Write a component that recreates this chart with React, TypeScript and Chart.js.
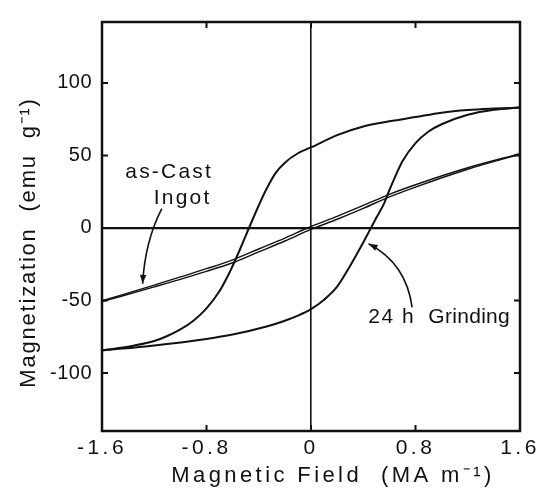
import React, { useEffect, useRef } from "react";
import { Chart, registerables } from "chart.js";

Chart.register(...registerables);

// ---- data ----
const xTicks = [-1.6, -0.8, 0, 0.8, 1.6];
const yTicks = [-100, -50, 0, 50, 100];

// 24 h grinding: descending-field branch (upper), listed with increasing field
const grindUpperH = [-1.6, -1.36, -1.2, -1.1, -1.0, -0.9, -0.8, -0.7, -0.62, -0.54, -0.47, -0.4, -0.34, -0.27, -0.2, -0.1, 0, 0.2, 0.4, 0.6, 0.8, 1.0, 1.2, 1.4, 1.6];
const grindUpperM = [-84.5, -81.2, -78, -74.5, -70, -64, -55.5, -43.5, -30, -14, 1, 15.5, 27, 38, 45, 51.5, 55.5, 64, 70, 73.5, 76.5, 79.5, 81.3, 82.3, 83];

// 24 h grinding: ascending-field branch (lower)
const grindLowerH = [-1.6, -1.2, -0.8, -0.6, -0.34, -0.2, -0.1, 0, 0.1, 0.2, 0.3, 0.4, 0.45, 0.5, 0.56, 0.6, 0.66, 0.7, 0.8, 0.9, 1.0, 1.2, 1.4, 1.6];
const grindLowerM = [-84.5, -81, -76.5, -73.5, -68, -64, -60.5, -56, -49.5, -40.5, -26, -10, -1.5, 7, 17, 26, 38.5, 46, 58.5, 66.5, 71.5, 78, 81.5, 83];

// as-cast ingot: narrow loop (two close branches)
const castH = [-1.6, -1.2, -0.8, -0.6, -0.4, -0.2, 0, 0.2, 0.4, 0.6, 0.8, 1.2, 1.6];
const castUpperM = [-50.2, -39.4, -28.1, -22, -14.5, -7, 1, 8, 15.5, 23.2, 29.8, 41.5, 51.2];
const castLowerM = [-50.8, -40.6, -29.9, -24, -16.5, -9, -1, 6, 13.5, 21.4, 28.2, 40.5, 50.8];

const xTitle = "Magnetic Field  (MA m\u207B\u00B9)";
const yTitle = "Magnetization  (emu  g\u207B\u00B9)";
const castLabel = ["as-Cast", "Ingot"];
const grindLabel = ["24 h", "Grinding"];

const FONT = "'Liberation Sans', Arial, sans-serif";
const INK = "#111";

function patchScale(scale: any, labelLs: string, titleLs: string, dx: number, dy: number) {
  if (scale.__patched) return;
  scale.__patched = true;
  const ctx = scale.ctx;
  const dl = scale.drawLabels.bind(scale);
  scale.drawLabels = (a: any) => {
    ctx.save();
    (ctx as any).letterSpacing = labelLs;
    dl(a);
    ctx.restore();
  };
  const dt = scale.drawTitle.bind(scale);
  scale.drawTitle = (a: any) => {
    ctx.save();
    (ctx as any).letterSpacing = titleLs;
    ctx.translate(dx, dy);
    dt(a);
    ctx.restore();
  };
}

const scalePatchPlugin = {
  id: "scalePatch",
  beforeDraw(chart: any) {
    patchScale(chart.scales.x, "3.5px", "3.4px", 22, 0);
    patchScale(chart.scales.y, "0.5px", "1.8px", 0, 16);
  },
};

const framePlugin = {
  id: "frame",
  afterDatasetsDraw(chart: any) {
    const { ctx, chartArea, scales } = chart;
    const { left, right, top, bottom } = chartArea;
    ctx.save();
    ctx.strokeStyle = INK;
    ctx.lineWidth = 2.5;
    ctx.strokeRect(left, top, right - left, bottom - top);
    ctx.lineWidth = 2;
    const tl = 6;
    ctx.beginPath();
    for (const v of xTicks) {
      const px = scales.x.getPixelForValue(v);
      ctx.moveTo(px, bottom);
      ctx.lineTo(px, bottom - tl);
      ctx.moveTo(px, top);
      ctx.lineTo(px, top + tl);
    }
    for (const v of yTicks) {
      const py = scales.y.getPixelForValue(v);
      ctx.moveTo(left, py);
      ctx.lineTo(left + tl, py);
      ctx.moveTo(right, py);
      ctx.lineTo(right - tl, py);
    }
    ctx.stroke();
    ctx.restore();
  },
};

function arrow(ctx: CanvasRenderingContext2D, x0: number, y0: number, cx: number, cy: number, x1: number, y1: number) {
  ctx.beginPath();
  ctx.moveTo(x0, y0);
  ctx.quadraticCurveTo(cx, cy, x1, y1);
  ctx.stroke();
  const ang = Math.atan2(y1 - cy, x1 - cx);
  const len = 9;
  const w = 3.2;
  ctx.beginPath();
  ctx.moveTo(x1, y1);
  ctx.lineTo(x1 - len * Math.cos(ang) + w * Math.sin(ang), y1 - len * Math.sin(ang) - w * Math.cos(ang));
  ctx.lineTo(x1 - len * Math.cos(ang) - w * Math.sin(ang), y1 - len * Math.sin(ang) + w * Math.cos(ang));
  ctx.closePath();
  ctx.fill();
}

const annotationPlugin = {
  id: "annotations",
  afterDatasetsDraw(chart: any) {
    const { ctx, scales } = chart;
    const X = (v: number) => scales.x.getPixelForValue(v);
    const Y = (v: number) => scales.y.getPixelForValue(v);
    ctx.save();
    ctx.fillStyle = INK;
    ctx.strokeStyle = INK;
    ctx.font = `21px ${FONT}`;
    ctx.textBaseline = "alphabetic";
    ctx.textAlign = "center";
    (ctx as any).letterSpacing = "2.2px";
    ctx.fillText(castLabel[0], X(-1.086), Y(34.1));
    ctx.fillText(castLabel[1], X(-0.983), Y(16.8));
    ctx.textAlign = "left";
    (ctx as any).letterSpacing = "1.5px";
    ctx.fillText(grindLabel[0], X(0.439), Y(-65.7));
    (ctx as any).letterSpacing = "0.3px";
    ctx.fillText(grindLabel[1], X(0.898), Y(-65.7));
    ctx.lineWidth = 1.6;
    arrow(ctx, X(-1.142), Y(13.3), X(-1.271), Y(-9.2), X(-1.289), Y(-38.5));
    arrow(ctx, X(0.774), Y(-54.8), X(0.73), Y(-24.5), X(0.441), Y(-10.9));
    ctx.restore();
  },
};

function pts(hs: number[], ms: number[]) {
  return hs.map((h, i) => ({ x: h, y: ms[i] }));
}

function lineDs(label: string, data: any[], width: number) {
  return {
    label,
    data,
    borderColor: INK,
    backgroundColor: INK,
    borderWidth: width,
    pointRadius: 0,
    pointHoverRadius: 0,
    showLine: true,
    fill: false,
    cubicInterpolationMode: "monotone" as const,
  };
}

export default function App() {
  const ref = useRef<HTMLCanvasElement>(null);
  useEffect(() => {
    const canvas = ref.current;
    if (!canvas) return;
    const zeroGrid = {
      color: (c: any) => (c.tick && c.tick.value === 0 ? INK : "rgba(0,0,0,0)"),
      drawTicks: false,
    };
    const chart = new Chart(canvas, {
      type: "scatter",
      data: {
        datasets: [
          lineDs("as-Cast Ingot (upper)", pts(castH, castUpperM), 1.4),
          lineDs("as-Cast Ingot (lower)", pts(castH, castLowerM), 1.4),
          lineDs("24 h Grinding (upper)", pts(grindUpperH, grindUpperM), 2),
          lineDs("24 h Grinding (lower)", pts(grindLowerH, grindLowerM), 2),
        ],
      },
      options: {
        responsive: false,
        animation: false,
        devicePixelRatio: 1,
        layout: { padding: { left: 0, right: 27, top: 3, bottom: 0 } },
        plugins: {
          legend: { display: false },
          tooltip: { enabled: false },
        },
        scales: {
          x: {
            type: "linear",
            min: -1.6,
            max: 1.6,
            afterBuildTicks: (s: any) => {
              s.ticks = xTicks.map((v) => ({ value: v }));
            },
            afterFit: (s: any) => {
              s.height = 58;
            },
            grid: { ...zeroGrid, lineWidth: (c: any) => (c.tick && c.tick.value === 0 ? 1.6 : 0) },
            border: { display: false },
            ticks: {
              padding: 5,
              color: INK,
              font: { family: FONT, size: 21 },
              maxRotation: 0,
              autoSkip: false,
              callback: (v: any) => String(v),
            },
            title: {
              display: true,
              text: xTitle,
              color: INK,
              font: { family: FONT, size: 22 },
              padding: { top: 0, bottom: 0 },
            },
          },
          y: {
            type: "linear",
            min: -140,
            max: 142,
            afterBuildTicks: (s: any) => {
              s.ticks = yTicks.map((v) => ({ value: v }));
            },
            afterFit: (s: any) => {
              s.width = 102;
            },
            grid: { ...zeroGrid, lineWidth: (c: any) => (c.tick && c.tick.value === 0 ? 2.2 : 0) },
            border: { display: false },
            ticks: {
              padding: 10,
              color: INK,
              font: { family: FONT, size: 20 },
              autoSkip: false,
              callback: (v: any) => String(v),
            },
            title: {
              display: true,
              text: yTitle,
              color: INK,
              font: { family: FONT, size: 22 },
              padding: { top: 16, bottom: 0 },
            },
          },
        },
      } as any,
      plugins: [scalePatchPlugin, framePlugin, annotationPlugin],
    });
    return () => chart.destroy();
  }, []);
  return (
    <div style={{ position: "fixed", left: 0, top: 0, width: 547, height: 489, background: "#fff" }}>
      <canvas ref={ref} width={547} height={489} style={{ display: "block" }} />
    </div>
  );
}
